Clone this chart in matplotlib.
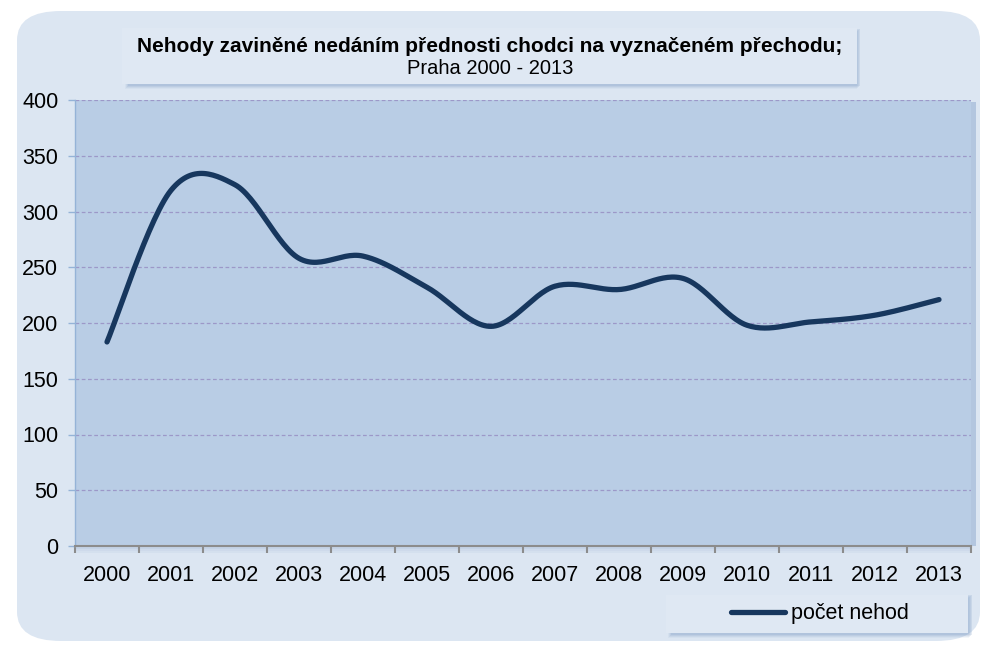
import numpy as np
import matplotlib
matplotlib.use("Agg")
import matplotlib.pyplot as plt
from matplotlib.patches import FancyBboxPatch, Rectangle
from matplotlib.lines import Line2D

plt.rcParams['font.family'] = ['Liberation Sans', 'DejaVu Sans']

# data
years = ['2000', '2001', '2002', '2003', '2004', '2005', '2006',
         '2007', '2008', '2009', '2010', '2011', '2012', '2013']
nehody = [183, 319, 324, 258, 260, 232, 197, 233, 230, 240, 198, 201, 207, 221]
y_ticks = [0, 50, 100, 150, 200, 250, 300, 350, 400]

title_1 = 'Nehody zaviněné nedáním přednosti chodci na vyznačeném přechodu;'
title_2 = 'Praha 2000 - 2013'
legend_label = 'počet nehod'

W, H = 982, 648
line_col = '#17375E'


def smooth(xs, ys, n=30):
    # excel style smoothed line (catmull-rom through the points)
    xs = np.asarray(xs, float)
    ys = np.asarray(ys, float)
    px = np.concatenate([[xs[0]], xs, [xs[-1]]])
    py = np.concatenate([[ys[0]], ys, [ys[-1]]])
    outx, outy = [], []
    t = np.linspace(0, 1, n)
    for i in range(1, len(px) - 2):
        b0x, b0y = px[i], py[i]
        b3x, b3y = px[i + 1], py[i + 1]
        b1x = b0x + (px[i + 1] - px[i - 1]) / 6
        b1y = b0y + (py[i + 1] - py[i - 1]) / 6
        b2x = b3x - (px[i + 2] - px[i]) / 6
        b2y = b3y - (py[i + 2] - py[i]) / 6
        mt = 1 - t
        outx.extend(mt**3 * b0x + 3 * mt**2 * t * b1x + 3 * mt * t**2 * b2x + t**3 * b3x)
        outy.extend(mt**3 * b0y + 3 * mt**2 * t * b1y + 3 * mt * t**2 * b2y + t**3 * b3y)
    return outx, outy


def fx(px):
    return px / W


def fy(py):
    return 1 - py / H


fig = plt.figure(figsize=(W / 100, H / 100), dpi=100)
fig.patch.set_facecolor('white')

# outer rounded panel
panel = FancyBboxPatch((fx(17), fy(641)), fx(980) - fx(17), fy(11) - fy(641),
                       boxstyle='round,pad=0,rounding_size=0.045',
                       transform=fig.transFigure, facecolor='#DCE6F2',
                       edgecolor='none', zorder=0)
fig.patches.append(panel)

# title box with shadow
for k, a in enumerate([0.08, 0.12, 0.16, 0.2]):
    fig.patches.append(Rectangle((fx(125 + k), fy(89 - k)), fx(857) - fx(125), fy(32) - fy(89),
                                 transform=fig.transFigure, facecolor='#7F9CC4',
                                 alpha=a, edgecolor='none', zorder=1))
fig.patches.append(Rectangle((fx(122), fy(84)), fx(857) - fx(122), fy(28) - fy(84),
                             transform=fig.transFigure, facecolor='#DFE8F3',
                             edgecolor='none', zorder=2))
fig.text(fx(490), fy(47), title_1, ha='center', va='center', fontsize=15,
         fontweight='bold', zorder=3)
fig.text(fx(490), fy(68), title_2, ha='center', va='center', fontsize=14.5, zorder=3)

# bottom axis shadow
for k, a in enumerate([0.25, 0.15, 0.08]):
    fig.patches.append(Rectangle((fx(76), fy(549 + 2 * k)), fx(971) - fx(76), 2 / H,
                                 transform=fig.transFigure, facecolor='#7F9CC4',
                                 alpha=a, edgecolor='none', zorder=1))
# right side shadow of the plot area
fig.patches.append(Rectangle((fx(971), fy(546)), 5 / W, fy(102) - fy(546),
                             transform=fig.transFigure, facecolor='#A9BEDB',
                             alpha=0.8, edgecolor='none', zorder=1))

ax = fig.add_axes([fx(75), fy(546), fx(971) - fx(75), fy(100) - fy(546)])
ax.set_zorder(5)
ax.set_facecolor('#B9CDE5')
ax.set_xlim(-0.5, len(years) - 0.5)
ax.set_ylim(0, 400)

ax.set_yticks(y_ticks)
ax.set_yticklabels([str(v) for v in y_ticks])
ax.yaxis.grid(True, color='#9C98C8', linestyle=(0, (3, 2)), linewidth=0.9)
ax.set_axisbelow(True)

xpos = np.arange(len(years))
ax.set_xticks(np.arange(len(years) + 1) - 0.5)
ax.set_xticklabels([])
ax.set_xticks(xpos, minor=True)
ax.set_xticklabels(years, minor=True)
ax.tick_params(axis='x', which='major', length=5, width=1.5, color='#8C8C8C', direction='out')
ax.tick_params(axis='x', which='minor', length=0, pad=14, labelsize=15.5)
ax.tick_params(axis='y', length=5, width=1, color='#95B3D7', pad=7, labelsize=15.5)

for s in ['top', 'right']:
    ax.spines[s].set_visible(False)
ax.spines['left'].set_color('#95B3D7')
ax.spines['left'].set_linewidth(1)
ax.spines['bottom'].set_color('#8C8C8C')
ax.spines['bottom'].set_linewidth(1.5)

sx, sy = smooth(xpos, nehody)
ax.plot(sx, sy, color=line_col, linewidth=3.8, solid_capstyle='round', clip_on=False)

# legend box with shadow
for k, a in enumerate([0.08, 0.12, 0.16, 0.2]):
    fig.patches.append(Rectangle((fx(668 + k), fy(638 - k)), fx(969) - fx(668), fy(598) - fy(638),
                                 transform=fig.transFigure, facecolor='#7F9CC4',
                                 alpha=a, edgecolor='none', zorder=1))
fig.patches.append(Rectangle((fx(666), fy(633)), fx(968) - fx(666), fy(595) - fy(633),
                             transform=fig.transFigure, facecolor='#DFE8F3',
                             edgecolor='none', zorder=2))
handle = Line2D([], [], color=line_col, linewidth=3.8, solid_capstyle='round')
leg = fig.legend([handle], [legend_label], loc='center',
                 bbox_to_anchor=(fx(820), fy(614)), frameon=False,
                 fontsize=15.5, handlelength=2.5, handletextpad=0.25)
leg.set_zorder(6)

fig.savefig('out.png', dpi=100)
